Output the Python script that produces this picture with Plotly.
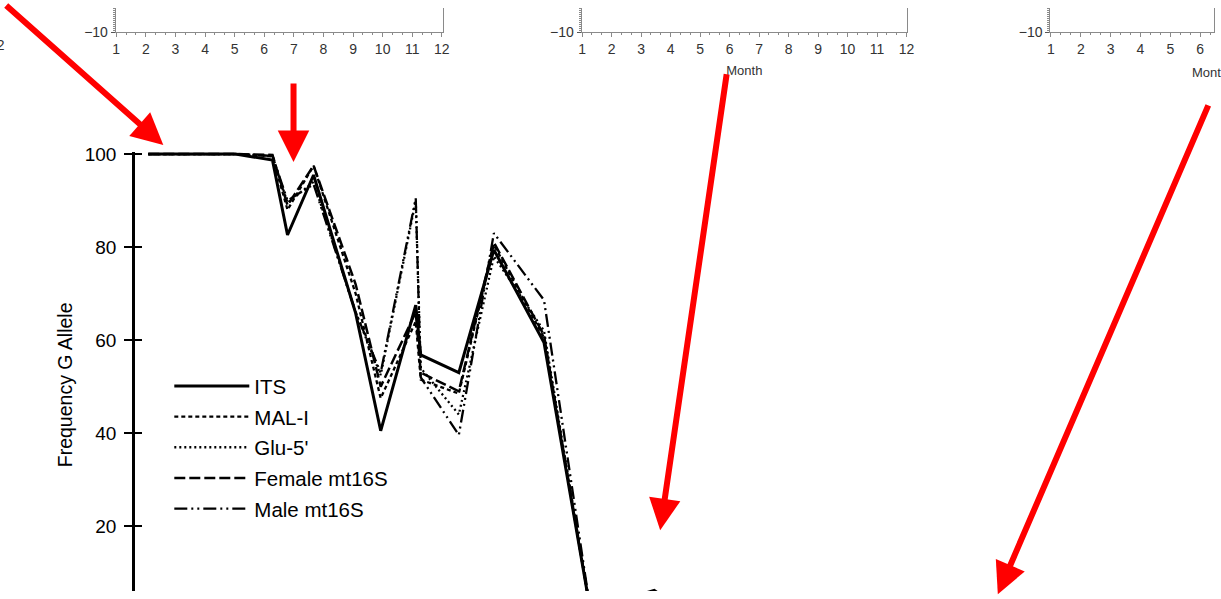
import plotly.graph_objects as go

W, H = 1221, 599

# ---------------- data (main chart) ----------------
# sampling times (arbitrary time units along the hidden x axis)
time_pts = [1.5, 10.2, 13.9, 15.4, 18.0, 22.2, 24.7, 28.2, 28.7, 32.5, 36.0, 41.0, 45.7, 48.7, 52.0, 54.7]
its      = [100, 100, 98.7, 82.6, 95.5, 65.8, 40.5, 67.5, 56.8, 53.0, 79.4, 59.5, 1.0, 4.0, 6.2, 2.0]
mal_i    = [100, 100, 99.5, 88.0, 97.5, 70.0, 47.5, 64.0, 51.5, 48.5, 80.5, 60.5, 1.0, 3.5, 6.0, 2.0]
glu_5    = [100, 100, 99.6, 89.5, 94.0, 66.0, 52.5, 90.0, 54.0, 44.0, 78.0, 62.0, 1.0, 3.5, 6.0, 2.0]
female16 = [100, 100, 99.8, 89.0, 97.5, 72.0, 50.0, 66.0, 53.0, 49.0, 81.0, 61.0, 1.0, 3.5, 6.0, 2.0]
male16   = [100, 100, 99.6, 90.0, 93.5, 66.0, 53.0, 90.5, 52.0, 39.6, 83.0, 68.6, 1.0, 3.5, 6.0, 2.0]

series_names = ["ITS", "MAL-I", "Glu-5'", "Female mt16S", "Male mt16S"]
series_vals = [its, mal_i, glu_5, female16, male16]

y_ticks = [20, 40, 60, 80, 100]
month_ticks = list(range(1, 13))

# ---------------- styles ----------------
dashes = ["solid", "4px,3px", "2px,3px", "11px,4px", "13px,4px,2px,4px,2px,4px"]
widths = [3.0, 2.3, 2.3, 2.5, 2.3]

# layout pixel targets -> figure pixels (compensates the capture scaling)
SX, OX = 0.990, 3.0
SY, OY = 0.973, 8.0

def fx(p):
    return (p - OX) / SX

def fy(p):
    return (p - OY) / SY

def px_x(p):
    return fx(p) / W

def px_y(p):
    return 1 - fy(p) / H

fig = go.Figure()

for i, (name, vals) in enumerate(zip(series_names, series_vals)):
    fig.add_trace(go.Scatter(
        x=time_pts, y=vals, name=name, mode="lines",
        line=dict(color="black", width=widths[i], dash=dashes[i]),
        xaxis="x", yaxis="y", legendgroup=name,
    ))

# empty traces to instantiate the small top panels
for ax in ["2", "3", "4"]:
    fig.add_trace(go.Scatter(x=[], y=[], xaxis="x" + ax, yaxis="y" + ax,
                             showlegend=False, hoverinfo="skip"))
fig.add_trace(go.Scatter(x=[], y=[], xaxis="x", yaxis="y5",
                         showlegend=False, hoverinfo="skip"))

# main axes geometry (target): 10 px per time unit, axis line at px 133;
# 4.65 px per percent, value 0 at px 619
def t_of_px(p):
    return (p - 133) / 10

x_r0 = t_of_px(OX + SX * 0)
x_r1 = t_of_px(OX + SX * W)

def v_of_py(p):
    return (619 - p) / 4.65

y_bottom = v_of_py(OY + SY * H)
y_top_px = 152
y_top = v_of_py(y_top_px)
main_dom = [0, px_y(y_top_px)]

tickfont_main = dict(family="Liberation Sans, Arial, sans-serif", size=19, color="black")
small_font = dict(family="Liberation Sans, Arial, sans-serif", size=14, color="#333")
month_font = dict(family="Liberation Sans, Arial, sans-serif", size=13, color="#333")

top_dom = [px_y(32), 1]

def top_x(domain_px, label_px, show_title):
    # label_px: target pixel positions of month 1 and spacing per month
    first, step = label_px
    r0 = 1 + (domain_px[0] - first) / step
    r1 = 1 + (domain_px[1] - first) / step
    d = dict(domain=[max(0, px_x(domain_px[0])), min(1, px_x(domain_px[1]))], range=[r0, r1],
             showline=True, linecolor="#8a8a8a", linewidth=1,
             ticks="outside", ticklen=4, tickcolor="#8a8a8a", tickwidth=1,
             tickvals=month_ticks, ticktext=[str(m) for m in month_ticks],
             tickfont=small_font, showgrid=False, zeroline=False, mirror=False,
             ticklabelstandoff=0,
             minor=dict(ticks="outside", ticklen=2, dtick=1/3, tick0=1, tickcolor="#8a8a8a", showgrid=False))
    if show_title:
        d["title"] = dict(text="Month", font=month_font, standoff=10)
    return d

def top_y(anchor):
    return dict(domain=top_dom, range=[-10, -4], anchor=anchor,
                showline=True, linecolor="#8a8a8a", linewidth=1, mirror=True,
                ticks="outside", ticklen=4, tickcolor="#555", tickwidth=1,
                tickvals=[-10], ticktext=["\u221210"], tickfont=small_font,
                showgrid=False, zeroline=False,
                minor=dict(ticks="outside", ticklen=2, dtick=0.5, tickcolor="#8a8a8a", showgrid=False))

x2 = top_x([115.5, 442.5], (116, 29.55), False); x2["anchor"] = "y2"
x3 = top_x([580.5, 905.5], (581, 29.45), True); x3["anchor"] = "y3"
x4 = top_x([1048.5, OX + SX * W], (1049, 29.8), False); x4["anchor"] = "y4"

fig.update_layout(
    width=W, height=H,
    margin=dict(l=0, r=0, t=0, b=0),
    paper_bgcolor="white", plot_bgcolor="rgba(0,0,0,0)",
    font=dict(family="Liberation Sans, Arial, sans-serif", color="black"),
    xaxis=dict(domain=[0, 1], range=[x_r0, x_r1], visible=False, anchor="y"),
    yaxis=dict(domain=main_dom, range=[y_bottom, y_top], anchor="free", position=px_x(133),
               showline=True, linecolor="black", linewidth=3.2,
               ticks="outside", ticklen=8, tickwidth=2, tickcolor="black",
               tickvals=y_ticks, tickfont=tickfont_main, ticklabelstandoff=4,
               showgrid=False, zeroline=False),
    yaxis5=dict(overlaying="y", range=[y_bottom, y_top], anchor="free", position=px_x(133),
                showline=False, ticks="inside", ticklen=8, tickwidth=2, tickcolor="black",
                tickvals=y_ticks, showticklabels=False, showgrid=False, zeroline=False),
    xaxis2=x2, yaxis2=top_y("x2"),
    xaxis3=x3, yaxis3=top_y("x3"),
    xaxis4=x4, yaxis4=top_y("x4"),
    legend=dict(x=px_x(169), y=px_y(366), xanchor="left", yanchor="top",
                bgcolor="rgba(0,0,0,0)", font=dict(size=20.5, color="black"),
                tracegroupgap=1, itemwidth=75),
    showlegend=True,
)

annotations = [
    dict(text="Frequency G Allele", x=px_x(65), y=px_y(385), xref="paper", yref="paper",
         xanchor="center", yanchor="middle",
         showarrow=False, textangle=-90, font=dict(size=19.5, color="black")),
    dict(text="Month", x=px_x(1208), y=px_y(72), xref="paper", yref="paper",
         xanchor="center", yanchor="middle",
         showarrow=False, font=month_font),
    dict(text="12", x=px_x(7), y=px_y(45), xref="paper", yref="paper",
         xanchor="right", yanchor="middle",
         showarrow=False, font=small_font),
]

# red arrows: (tip_x, tip_y, tail_x, tail_y) in target pixels
arrows = [(163, 145, 6, 8), (293, 162, 293, 84), (659, 530, 725, 85), (996, 594, 1205, 117)]
for tx, ty, sx, sy in arrows:
    annotations.append(dict(x=px_x(tx), y=px_y(ty), xref="paper", yref="paper",
                            ax=fx(sx) - fx(tx), ay=fy(sy) - fy(ty), axref="pixel", ayref="pixel",
                            showarrow=True, arrowhead=2, arrowsize=1.05, arrowwidth=6,
                            arrowcolor="#ff0000", text="", standoff=0))
fig.update_layout(annotations=annotations)

post = (
    "document.documentElement.style.margin='0';"
    "document.documentElement.style.overflow='hidden';"
    "document.body.style.margin='0';"
    "document.body.style.overflow='hidden';"
)

fig.write_html("out.html", config={"displayModeBar": False}, post_script=post)
